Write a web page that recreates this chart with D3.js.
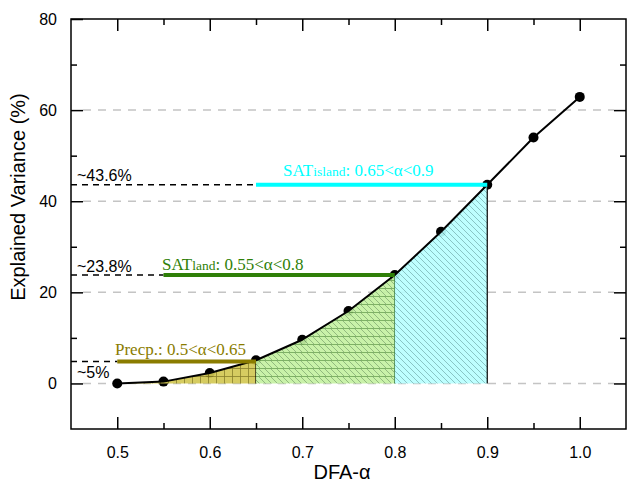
<!DOCTYPE html>
<html>
<head>
<meta charset="utf-8">
<script src="https://cdn.jsdelivr.net/npm/d3@7"></script>
<style>
  body { margin: 0; background: #fff; }
  svg { display: block; }
</style>
</head>
<body>
<script>
// data
var alphas = [0.5, 0.55, 0.6, 0.65, 0.7, 0.75, 0.8, 0.85, 0.9, 0.95, 1.0];
var variance = [0, 0.4, 2.3, 5.1, 9.6, 15.9, 23.8, 33.3, 43.6, 54.0, 62.9];
var xTicks = [0.5, 0.6, 0.7, 0.8, 0.9, 1.0];
var yTicks = [0, 20, 40, 60, 80];
// the three alpha ranges with their guide levels
var ranges = [
  { name: "SAT", sub: "island", rest: ": 0.65<\u03b1<0.9", from: 0.65, to: 0.9, level: 43.6, guide: "~43.6%", color: "#00ffff" },
  { name: "SAT", sub: "land", rest: ": 0.55<\u03b1<0.8", from: 0.55, to: 0.8, level: 23.8, guide: "~23.8%", color: "#2f7f08" },
  { name: "Precp.: 0.5<\u03b1<0.65", sub: "", rest: "", from: 0.5, to: 0.65, level: 4.8, guide: "~5%", color: "#8a7c00" }
];

var width = 630, height = 488;
var margin = { top: 19, right: 4, bottom: 59, left: 71 };

var svg = d3.select("body").append("svg")
  .attr("width", width)
  .attr("height", height)
  .style("font-family", "'Liberation Sans', Arial, sans-serif");

var x = d3.scaleLinear().domain([0.45, 1.05]).range([margin.left, width - margin.right]);
var y = d3.scaleLinear().domain([-10, 80]).range([height - margin.bottom, margin.top]);

var pts = alphas.map(function(a, i) { return { a: a, v: variance[i] }; });

// hatch patterns
var defs = svg.append("defs");
function pattern(id, bg, stroke, paths, size) {
  var p = defs.append("pattern").attr("id", id)
    .attr("patternUnits", "userSpaceOnUse")
    .attr("width", size).attr("height", size);
  p.append("rect").attr("width", size).attr("height", size).attr("fill", bg);
  paths.forEach(function(d) {
    p.append("path").attr("d", d).attr("stroke", stroke).attr("stroke-width", 0.8).attr("fill", "none");
  });
}
var diag = "M0,0L6,6M-1,5L1,7M5,-1L7,1";
pattern("hatchCyan", "#b8ffff", "#70b0b0", [diag], 6);
pattern("hatchOlive", "#d2c853", "#7d7418", ["M0,0.5H8", "M0.5,0V8"], 8);
defs.append("pattern").attr("id", "hatchGreen")
  .attr("patternUnits", "userSpaceOnUse").attr("width", 24).attr("height", 8)
  .call(function(p) {
    p.append("rect").attr("width", 24).attr("height", 8).attr("fill", "#c4f1a2");
    p.append("path").attr("d", "M0,0.5H24").attr("stroke", "#5f9a45").attr("stroke-width", 0.8);
    p.append("path").attr("d", "M0,0L8,8M6,0L14,8M12,0L20,8M18,0L26,8M-6,0L2,8")
      .attr("stroke", "#6f9a60").attr("stroke-width", 0.7).attr("fill", "none");
  });

// grey dashed gridlines
svg.append("g").selectAll("line")
  .data(yTicks.filter(function(t) { return t < 80; }))
  .enter().append("line")
  .attr("x1", margin.left + 12).attr("x2", width - margin.right - 12)
  .attr("y1", function(d) { return y(d); }).attr("y2", function(d) { return y(d); })
  .attr("stroke", "#c4c4c4").attr("stroke-width", 1.5).attr("stroke-dasharray", "8,7");

var curve = d3.curveLinear;

// points (fills go over them)
svg.append("g").selectAll("circle")
  .data(pts).enter().append("circle")
  .attr("cx", function(d) { return x(d.a); })
  .attr("cy", function(d) { return y(d.v); })
  .attr("r", 5).attr("fill", "#000");

// filled segments under the curve
var area = d3.area().curve(curve)
  .x(function(d) { return x(d.a); })
  .y0(y(0)).y1(function(d) { return y(d.v); });
var segs = [
  { from: 0.5, to: 0.65, fill: "url(#hatchOlive)", edge: "#000" },
  { from: 0.65, to: 0.8, fill: "url(#hatchGreen)", edge: "#2f6a20" },
  { from: 0.8, to: 0.9, fill: "url(#hatchCyan)", edge: "#000" }
];
segs.forEach(function(s, i) {
  var cid = "clip" + i;
  defs.append("clipPath").attr("id", cid).append("rect")
    .attr("x", x(s.from)).attr("y", 0)
    .attr("width", x(s.to) - x(s.from)).attr("height", height);
  svg.append("path").datum(pts)
    .attr("clip-path", "url(#" + cid + ")")
    .attr("d", area).attr("fill", s.fill).attr("opacity", 0.92);
  var top = pts.filter(function(p) { return p.a === s.to; })[0];
  svg.append("line")
    .attr("x1", x(s.to)).attr("x2", x(s.to))
    .attr("y1", y(0)).attr("y2", y(top.v))
    .attr("stroke", s.edge).attr("stroke-width", 1.2);
});

// the curve
svg.append("path").datum(pts)
  .attr("d", d3.line().curve(curve).x(function(d) { return x(d.a); }).y(function(d) { return y(d.v); }))
  .attr("fill", "none").attr("stroke", "#000").attr("stroke-width", 2)
  .attr("stroke-linejoin", "round");

// guide lines and labels
ranges.forEach(function(r) {
  svg.append("line")
    .attr("x1", margin.left).attr("x2", x(r.from))
    .attr("y1", y(r.level)).attr("y2", y(r.level))
    .attr("stroke", "#000").attr("stroke-width", 1.5).attr("stroke-dasharray", "6,5");
  svg.append("line")
    .attr("x1", x(r.from)).attr("x2", x(r.to))
    .attr("y1", y(r.level)).attr("y2", y(r.level))
    .attr("stroke", r.color).attr("stroke-width", 4);
});

svg.append("text").attr("x", 77).attr("y", y(43.6) - 4).attr("font-size", 16).text(ranges[0].guide);
svg.append("text").attr("x", 77).attr("y", y(23.8) - 3).attr("font-size", 16).text(ranges[1].guide);
svg.append("text").attr("x", 77).attr("y", y(0) - 5).attr("font-size", 16).text(ranges[2].guide);

function rangeLabel(r, lx, ly) {
  var t = svg.append("text").attr("x", lx).attr("y", ly)
    .attr("fill", r.color)
    .style("font-family", "'Liberation Serif', 'Times New Roman', serif")
    .attr("font-size", 17);
  t.append("tspan").text(r.name);
  if (r.sub) t.append("tspan").attr("font-size", 13.5).text(r.sub);
  if (r.rest) t.append("tspan").text(r.rest);
}
rangeLabel(ranges[0], 283, 176);
rangeLabel(ranges[1], 162, 270);
rangeLabel(ranges[2], 115, 355);

// frame
svg.append("rect")
  .attr("x", margin.left).attr("y", margin.top)
  .attr("width", width - margin.left - margin.right)
  .attr("height", height - margin.top - margin.bottom)
  .attr("fill", "none").attr("stroke", "#000").attr("stroke-width", 1.5);

// inward ticks on all four sides
var xMinor = [0.55, 0.65, 0.75, 0.85, 0.95];
var yMinor = [10, 30, 50, 70];
var axes = svg.append("g").attr("class", "axes");
axes.append("g").attr("transform", "translate(0," + (height - margin.bottom) + ")")
  .call(d3.axisBottom(x).tickValues(xTicks).tickSize(-12).tickFormat(d3.format(".1f")).tickPadding(18));
axes.append("g").attr("transform", "translate(0," + (height - margin.bottom) + ")")
  .call(d3.axisBottom(x).tickValues(xMinor).tickSize(-6).tickFormat(""));
axes.append("g").attr("transform", "translate(0," + margin.top + ")")
  .call(d3.axisTop(x).tickValues(xTicks).tickSize(-12).tickFormat(""));
axes.append("g").attr("transform", "translate(0," + margin.top + ")")
  .call(d3.axisTop(x).tickValues(xMinor).tickSize(-6).tickFormat(""));
axes.append("g").attr("transform", "translate(" + margin.left + ",0)")
  .call(d3.axisLeft(y).tickValues(yTicks).tickSize(-12).tickPadding(14));
axes.append("g").attr("transform", "translate(" + margin.left + ",0)")
  .call(d3.axisLeft(y).tickValues(yMinor).tickSize(-6).tickFormat(""));
axes.append("g").attr("transform", "translate(" + (width - margin.right) + ",0)")
  .call(d3.axisRight(y).tickValues(yTicks.filter(function(v) { return v < 80; })).tickSize(-12).tickFormat(""));
axes.append("g").attr("transform", "translate(" + (width - margin.right) + ",0)")
  .call(d3.axisRight(y).tickValues(yMinor).tickSize(-6).tickFormat(""));
axes.selectAll(".domain").remove();
axes.selectAll(".tick line").attr("stroke", "#000").attr("stroke-width", 1.5);
axes.selectAll("text")
  .attr("font-size", 16)
  .style("font-family", "'Liberation Sans', Arial, sans-serif")
  .attr("fill", "#000");

// axis titles
svg.append("text")
  .attr("transform", "translate(25,197) rotate(-90)")
  .attr("text-anchor", "middle").attr("font-size", 20)
  .text("Explained Variance (%)");
svg.append("text")
  .attr("x", 342).attr("y", 479)
  .attr("text-anchor", "middle").attr("font-size", 20)
  .text("DFA-\u03b1");
</script>
</body>
</html>
